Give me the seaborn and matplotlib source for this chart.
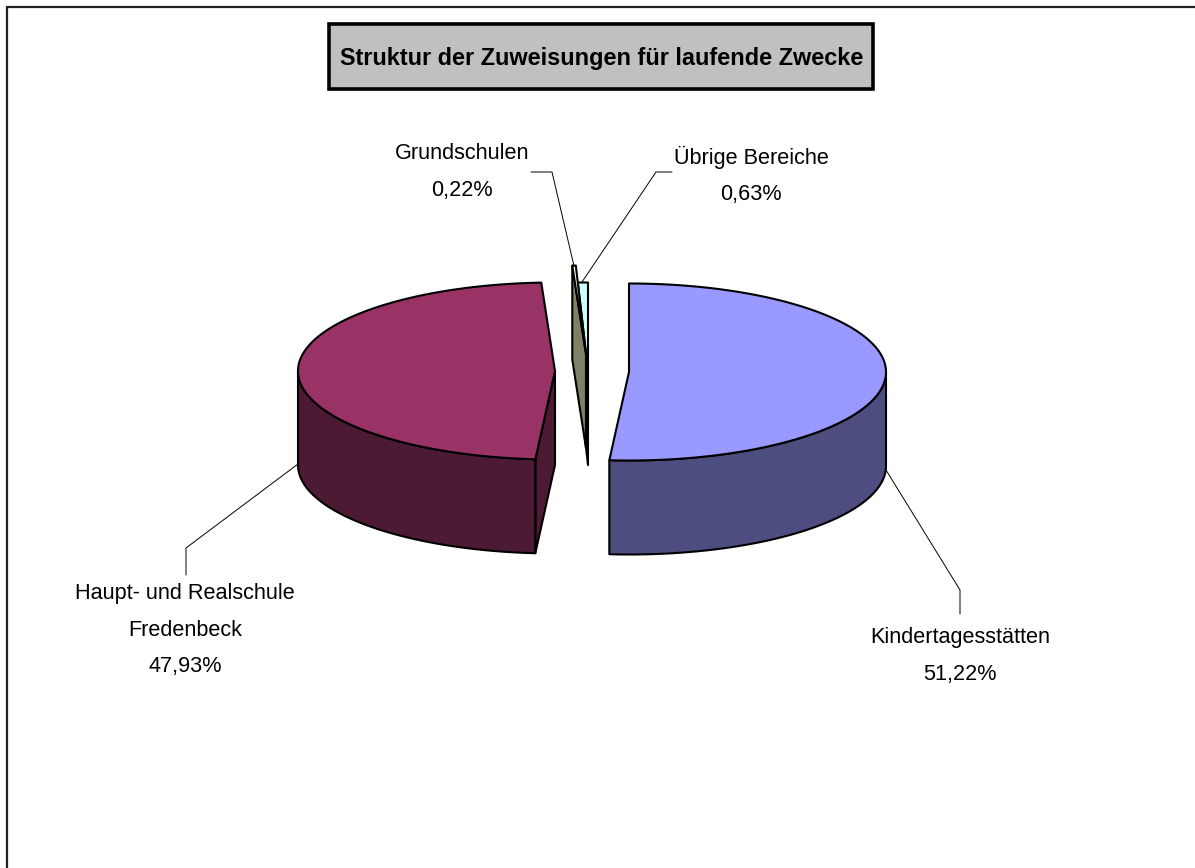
import numpy as np
import matplotlib
matplotlib.use("Agg")
import matplotlib.pyplot as plt
from matplotlib.patches import Polygon, Rectangle
import seaborn as sns

# Daten
bereiche = ["Kindertagesstätten", "Haupt- und Realschule\nFredenbeck", "Grundschulen", "Übrige Bereiche"]
anteile = [51.22, 47.93, 0.22, 0.63]
titel = "Struktur der Zuweisungen für laufende Zwecke"

# Farben und Lage
farben = sns.color_palette(["#9999FF", "#993366", "#FFFFCC", "#CCFFFF"])
mitte_x = [629, 555, 586, 588]
mitte_y = [372, 371, 354, 371]
label_x = [960, 185, 462, 751]
label_y = [656, 630, 172, 175]
leader_x = [[960, 960, 886], [186, 186, 298], [531, 552, 574], [672, 656, 582]]
leader_y = [[614, 590, 470], [575, 548, 464], [172, 172, 266], [172, 172, 282]]
rx, ry, tiefe = 257, 88.5, 94

sns.set_theme(style="white")
plt.rcParams["font.family"] = ["Liberation Sans", "DejaVu Sans"]

fig = plt.figure(figsize=(11.95, 8.68), dpi=100)
ax = fig.add_axes([0, 0, 1, 1])
ax.set_xlim(0, 1195)
ax.set_ylim(868, 0)
ax.axis("off")

# Rahmen
ax.plot([7, 7, 1195], [868, 7, 7], color="#222222", lw=1.6, solid_joinstyle="miter")


def rand(i, winkel):
    # winkel im Uhrzeigersinn von oben
    w = np.radians(winkel)
    return mitte_x[i] + rx * np.sin(w), mitte_y[i] - ry * np.cos(w)


grenzen = np.concatenate([[0], np.cumsum(anteile)]) / sum(anteile) * 360
reihenfolge = [3, 2, 0, 1]

for i in reihenfolge:
    a, b = grenzen[i], grenzen[i + 1]
    hell = farben[i]
    dunkel = tuple(np.array(hell) * 0.5)
    stil = dict(edgecolor="black", lw=1.5, joinstyle="round")
    mx, my = mitte_x[i], mitte_y[i]

    # Schnittflächen
    for w, sichtbar in [(a, np.sin(np.radians(a)) < -1e-6), (b, np.sin(np.radians(b)) > 1e-6)]:
        if sichtbar:
            x, y = rand(i, w)
            ax.add_patch(Polygon([(mx, my), (x, y), (x, y + tiefe), (mx, my + tiefe)], facecolor=dunkel, **stil))

    # Außenwand
    von, bis = max(a, 90), min(b, 270)
    if bis > von:
        x, y = rand(i, np.linspace(von, bis, 120))
        punkte = np.vstack([np.c_[x, y], np.c_[x, y + tiefe][::-1]])
        ax.add_patch(Polygon(punkte, facecolor=dunkel, **stil))

    # Deckel
    x, y = rand(i, np.linspace(a, b, 240))
    punkte = np.vstack([[mx, my], np.c_[x, y]])
    ax.add_patch(Polygon(punkte, facecolor=hell, **stil))

# Beschriftung
for i, name in enumerate(bereiche):
    ax.plot(leader_x[i], leader_y[i], color="black", lw=0.7)
    text = name + "\n" + f"{anteile[i]:.2f}%".replace(".", ",")
    ax.text(label_x[i], label_y[i], text, ha="center", va="center", fontsize=15.6,
            linespacing=1.94, color="black")

# Titel
ax.add_patch(Rectangle((329.5, 24), 544, 65, facecolor="#C0C0C0", edgecolor="black", lw=2.6))
ax.text(601.5, 58, titel, ha="center", va="center", fontsize=16.9, fontweight="bold", color="black")

fig.savefig("out.png", dpi=100)
